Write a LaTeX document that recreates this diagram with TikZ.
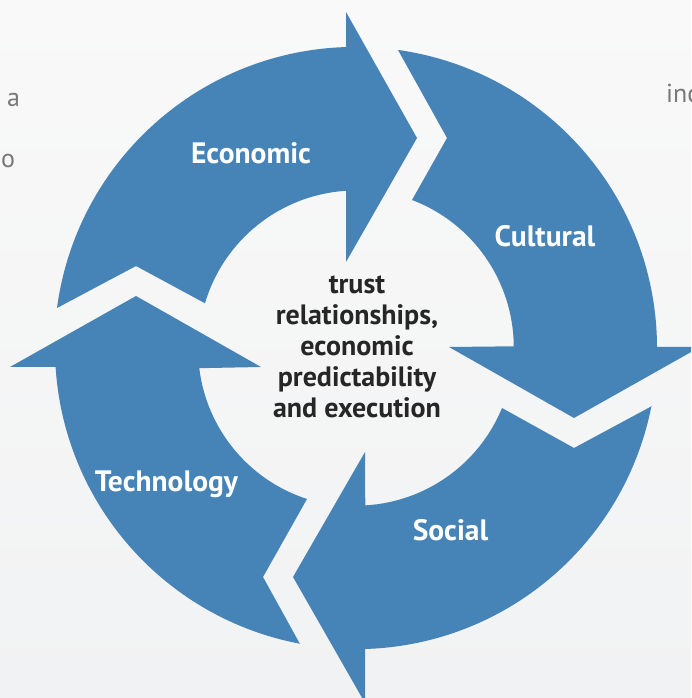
\documentclass[tikz,border=0pt]{standalone}
\usepackage{fontspec}
\setmainfont{PT Sans}
\definecolor{cycleblue}{RGB}{70,131,183}
\definecolor{bgtop}{RGB}{249,249,249}
\definecolor{bgbot}{RGB}{241,242,243}
\definecolor{greytext}{RGB}{120,120,120}
\tikzset{
  arrowpart/.style={fill=cycleblue, draw=none},
  seglabel/.style={text=white, font=\bfseries\fontsize{29.5}{33}\selectfont, anchor=base, inner sep=0pt},
  coretext/.style={text=black!85, font=\bfseries\fontsize{28}{31}\selectfont, anchor=base, inner sep=0pt},
  pagetext/.style={text=greytext, font=\fontsize{26}{30}\selectfont, anchor=base west, inner sep=0pt}
}
\begin{document}
\begin{tikzpicture}[x=1pt,y=1pt]
\useasboundingbox (0,0) rectangle (691,698);
\clip (0,0) rectangle (691,698);
\shade[top color=bgtop, bottom color=bgbot] (0,0) rectangle (691,698);
\coordinate (C) at (356,350);
% Economic
\fill[arrowpart] (346,650.8) -- (346,686) -- (417,560) -- (346,436) -- (346,507.2)
  arc[start angle=93.64, end angle=163.51, radius=157.5] -- (136,432) -- (57,390)
  arc[start angle=172.38, end angle=91.90, radius=301] -- cycle;
% Cultural
\fill[arrowpart] (398,648) -- (447,560) -- (412,498)
  arc[start angle=69.27, end angle=0.36, radius=157.5] -- (449,351) -- (574,280) -- (700,351) -- (657,351)
  arc[start angle=0.19, end angle=81.98, radius=301] -- cycle;
% Social
\fill[arrowpart] (652,292) -- (574,250) -- (502,290)
  arc[start angle=-22.34, end angle=-86.74, radius=157.5] -- (365,246) -- (293,121) -- (365,-5) -- (365,49)
  arc[start angle=-88.29, end angle=-11.09, radius=301] -- cycle;
% Technology
\fill[arrowpart] (300,54) -- (263,121) -- (307,199)
  arc[start angle=252.02, end angle=186.93, radius=157.5] -- (261,331) -- (136,402) -- (10,331) -- (55.6,331)
  arc[start angle=183.62, end angle=259.29, radius=301] -- cycle;
% labels
\node[seglabel] (econ) at (251,534) {Economic};
\node[seglabel] (cult) at (545,451) {Cultural};
\node[seglabel] (soc) at (450.5,157) {Social};
\node[seglabel] (tech) at (166.5,206) {Technology};
% centre text
\node[coretext] (l1) at (357,404) {trust};
\node[coretext] (l2) at (357,373) {relationships,};
\node[coretext] (l3) at (357,342) {economic};
\node[coretext] (l4) at (357,311) {predictability};
\node[coretext] (l5) at (357,280) {and execution};
% page fragments
\node[pagetext] (pa) at (7,591) {a};
\node[pagetext] (po) at (1,530) {o};
\node[pagetext] (pi) at (666,595) {inc};
\end{tikzpicture}
\end{document}
